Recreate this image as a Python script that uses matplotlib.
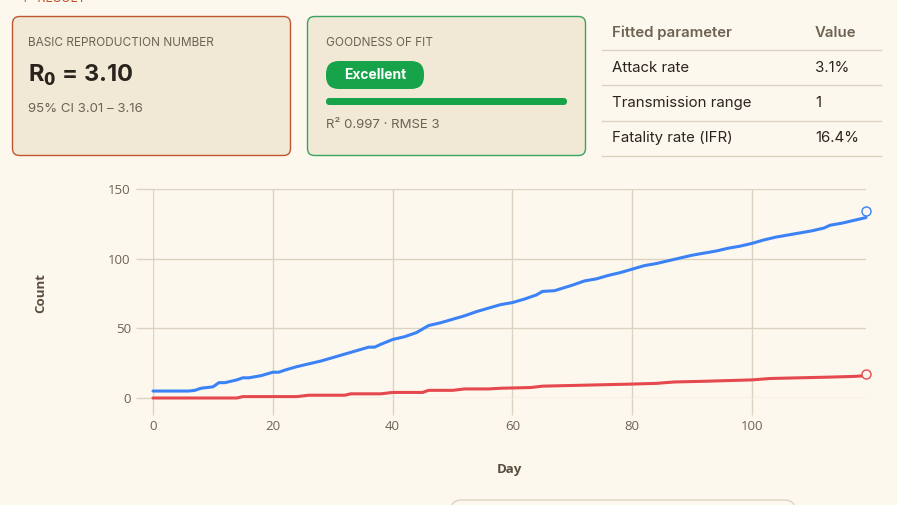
import matplotlib.pyplot as plt
from matplotlib.patches import FancyBboxPatch

# Fitted curves
inf_days = [0, 3, 6, 7, 8, 9, 10, 11, 12, 13, 14, 15, 16, 18, 20, 21, 22, 24, 26, 28,
            30, 32, 34, 36, 37, 38, 40, 42, 44, 46, 48, 50, 52, 54, 56, 58, 60, 62, 64,
            65, 67, 70, 72, 74, 76, 78, 80, 82, 84, 86, 88, 90, 92, 94, 96, 98, 100, 102,
            104, 106, 108, 110, 112, 113, 115, 117, 119]
inf_vals = [5, 5, 5, 5.5, 7, 7.5, 8, 11, 11, 12, 13, 14.5, 14.5, 16, 18.5, 18.5, 20, 22.5,
            24.5, 26.5, 29, 31.5, 34, 36.5, 36.5, 38.5, 42, 44, 47, 52, 54, 56.5, 59, 62,
            64.5, 67, 68.5, 71, 74, 76.5, 77, 81, 84, 85.5, 88, 90, 92.5, 95, 96.5, 98.5,
            100.5, 102.5, 104, 105.5, 107.5, 109, 111, 113.5, 115.5, 117, 118.5, 120, 122,
            124, 125.5, 127.5, 129.5]
death_days = [0, 14, 15, 24, 26, 32, 33, 38, 40, 45, 46, 50, 52, 56, 58, 63, 65, 70, 75,
              80, 84, 87, 92, 96, 100, 103, 108, 113, 117, 119]
death_vals = [0, 0, 1, 1, 2, 2, 3, 3, 4, 4, 5.5, 5.5, 6.5, 6.5, 7, 7.5, 8.5, 9, 9.5, 10,
              10.5, 11.5, 12, 12.5, 13, 14, 14.5, 15, 15.5, 16]
# last observed points (open circles)
obs_day = 119
obs_inf = 134
obs_death = 17

x_ticks = [0, 20, 40, 60, 80, 100]
y_ticks = [0, 50, 100, 150]

params = ["Attack rate", "Transmission range", "Fatality rate (IFR)"]
param_vals = ["3.1%", "1", "16.4%"]

BG = "#fdf8ee"
CARD = "#f2e8d6"
BLUE = "#3b82f6"
RED = "#e5484d"
GREEN = "#17a34a"
GRID = "#dcd2c2"
MUTED = "#6e6253"
DARK = "#2a241e"

plt.rcParams['font.family'] = ['Inter', 'DejaVu Sans']

fig = plt.figure(figsize=(8.97, 5.05), dpi=100, facecolor=BG)

# overlay in pixel coordinates for the cards and the table
ov = fig.add_axes([0, 0, 1, 1], zorder=0)
ov.set_xlim(0, 897)
ov.set_ylim(505, 0)
ov.axis("off")

ov.text(20, -1.5, "↑  RESULT", color="#c0522a", fontsize=9, va="center")

ov.add_patch(FancyBboxPatch((12.5, 16.5), 278, 139, boxstyle="round,pad=0,rounding_size=7",
                            fc=CARD, ec="#c0562e", lw=1))
ov.add_patch(FancyBboxPatch((307.5, 16.5), 278, 139, boxstyle="round,pad=0,rounding_size=7",
                            fc=CARD, ec="#3aa35f", lw=1))

ov.text(28, 43, "BASIC REPRODUCTION NUMBER", color=MUTED, fontsize=8.5, va="center")
ov.text(28, 75, r"R$_\mathbf{0}$ = 3.10", color=DARK, fontsize=17, fontweight="bold", va="center")
ov.text(28, 109, "95% CI 3.01 – 3.16", color=MUTED, fontsize=9.5, va="center")

ov.text(326, 43, "GOODNESS OF FIT", color=MUTED, fontsize=8.5, va="center")
ov.add_patch(FancyBboxPatch((326, 61), 98, 28, boxstyle="round,pad=0,rounding_size=13",
                            fc=GREEN, ec="none"))
ov.text(375, 75, "Excellent", color="white", fontsize=10, fontweight="bold",
        ha="center", va="center")
ov.add_patch(FancyBboxPatch((326, 98), 241, 7, boxstyle="round,pad=0,rounding_size=3.5",
                            fc=GREEN, ec="none"))
ov.text(326, 125, "R² 0.997 · RMSE 3", color=MUTED, fontsize=9.5, va="center")

# parameter table
ov.text(612, 33, "Fitted parameter", color=MUTED, fontsize=10.8, fontweight="semibold", va="center")
ov.text(815, 33, "Value", color=MUTED, fontsize=10.8, fontweight="semibold", va="center")
for i, (name, val) in enumerate(zip(params, param_vals)):
    ov.plot([602, 881], [50 + 35.3 * i] * 2, color=GRID, lw=1)
    ov.text(612, 68 + 35 * i, name, color=DARK, fontsize=10.8, va="center")
    ov.text(815, 68 + 35 * i, val, color=DARK, fontsize=10.8, va="center")
ov.plot([602, 881], [156, 156], color=GRID, lw=1)

# box peeking in at the bottom
ov.add_patch(FancyBboxPatch((451, 500), 344, 30, boxstyle="round,pad=0,rounding_size=10",
                            fc=BG, ec="#ddd3c2", lw=1))

# chart
ax = fig.add_axes([153 / 897, 107 / 505, 713 / 897, 209 / 505], zorder=1)
ax.set_facecolor("none")
ax.plot(inf_days, inf_vals, color=BLUE, lw=2.2, clip_on=False, solid_capstyle="round")
ax.plot(death_days, death_vals, color=RED, lw=2.2, clip_on=False, solid_capstyle="round")
ax.plot([obs_day], [obs_inf], "o", mfc=BG, mec=BLUE, ms=6.5, mew=1, clip_on=False)
ax.plot([obs_day], [obs_death], "o", mfc=BG, mec=RED, ms=6.5, mew=1, clip_on=False)

ax.set_xlim(0, 119)
ax.set_ylim(0, 150)
ax.set_xticks(x_ticks)
ax.set_yticks(y_ticks)
ax.grid(True, color=GRID, lw=1)
for s in ax.spines.values():
    s.set_visible(False)
ax.tick_params(length=12, width=1, color=GRID, labelcolor=MUTED, labelsize=9.5, pad=4)
for lab in ax.get_xticklabels() + ax.get_yticklabels():
    lab.set_family(["Open Sans", "DejaVu Sans"])
ax.set_xlabel("Day", color="#5a4e3e", fontsize=9.5, fontweight="bold",
              family=["Open Sans", "DejaVu Sans"], labelpad=21.5)
ax.set_ylabel("Count", color="#5a4e3e", fontsize=9.5, fontweight="bold",
              family=["Open Sans", "DejaVu Sans"], labelpad=44)

fig.savefig("out.png", dpi=100, facecolor=BG)
